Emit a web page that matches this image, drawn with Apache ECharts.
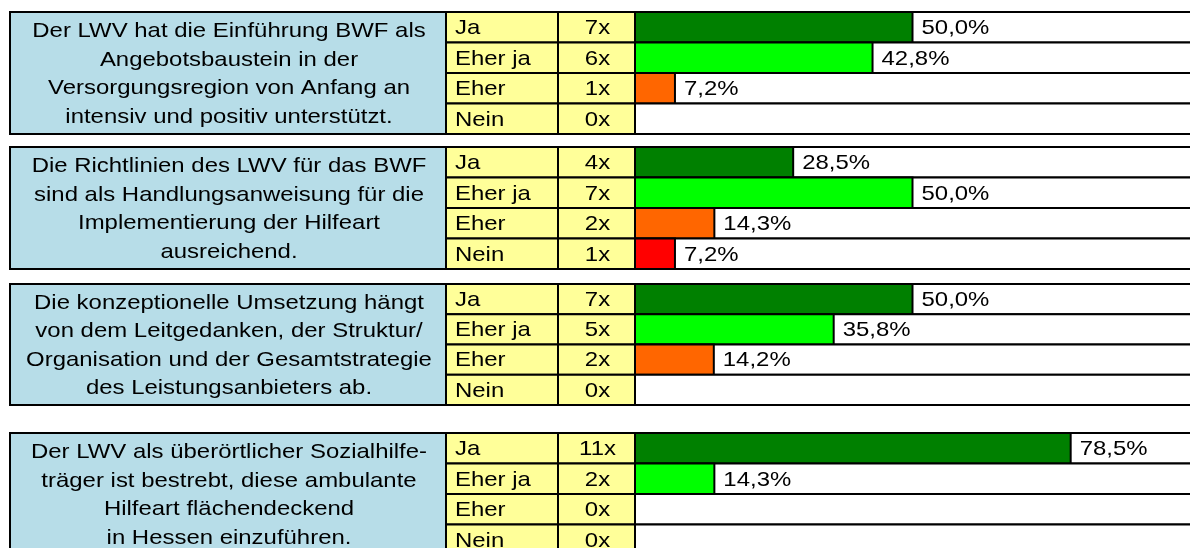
<!DOCTYPE html>
<html>
<head>
<meta charset="utf-8">
<script src="https://cdn.jsdelivr.net/npm/echarts@6/dist/echarts.min.js"></script>
<style>
  html, body { margin: 0; padding: 0; background: #fff; overflow: hidden; }
  #chart { width: 1190px; height: 560px; }
</style>
</head>
<body>
<div id="chart"></div>
<script>
// Answer categories (rows of every block)
const answers = ['Ja', 'Eher ja', 'Eher', 'Nein'];

// Statements
const questions = [
  'Der LWV hat die Einführung BWF als\nAngebotsbaustein in der\nVersorgungsregion von Anfang an\nintensiv und positiv unterstützt.',
  'Die Richtlinien des LWV für das BWF\nsind als Handlungsanweisung für die\nImplementierung der Hilfeart\nausreichend.',
  'Die konzeptionelle Umsetzung hängt\nvon dem Leitgedanken, der Struktur/\nOrganisation und der Gesamtstrategie\ndes Leistungsanbieters ab.',
  'Der LWV als überörtlicher Sozialhilfe-\nträger ist bestrebt, diese ambulante\nHilfeart flächendeckend\nin Hessen einzuführen.'
];

// Number of answers per statement (Ja, Eher ja, Eher, Nein)
const counts1 = [7, 6, 1, 0];
const counts2 = [4, 7, 2, 1];
const counts3 = [7, 5, 2, 0];
const counts4 = [11, 2, 0, 0];

// Shares in percent
const shares1 = [50.0, 42.8, 7.2, 0];
const shares2 = [28.5, 50.0, 14.3, 7.2];
const shares3 = [50.0, 35.8, 14.2, 0];
const shares4 = [78.5, 14.3, 0, 0];

const countSets = [counts1, counts2, counts3, counts4];
const shareSets = [shares1, shares2, shares3, shares4];

// Layout (the drawing surface runs a little past the visible bottom edge)
const blockTops = [12, 147, 284, 433];
const blockHeights = [122, 122, 121, 122];
const barLeft = 635;
const answerColLeft = 446;
const countColLeft = 558;
const boxLeft = 10;
const barColors = ['#008000', '#00FF00', '#FF6600', '#FF0000'];
const FONT = '21px "Liberation Sans", Arial, Helvetica, sans-serif';
const STRETCH = 1.14;   // wide, slightly stretched lettering
const fmt = v => v.toFixed(1).replace('.', ',') + '%';

function label(x, y, text, align, extra) {
  return {
    type: 'text', x: x, y: y, scaleX: STRETCH,
    style: Object.assign({ x: 0, y: 0, text: text, fill: '#000', font: FONT,
      align: align, verticalAlign: 'middle' }, extra || {})
  };
}

function renderRow(params, api) {
  const share = api.value(0);
  const row = api.value(1);
  const count = api.value(2);
  const block = params.seriesIndex;
  const cs = params.coordSys;
  const h = api.size([0, 1])[1];
  const base = api.coord([0, row]);
  const end = api.coord([share, row]);
  const top = base[1] - h / 2;
  const cy = base[1];
  const line = { stroke: '#000', lineWidth: 2 };
  const children = [];

  if (row === 0) {
    const bottom = api.coord([0, answers.length - 1])[1] + h / 2;
    children.push({
      type: 'rect',
      shape: { x: boxLeft, y: top, width: answerColLeft - boxLeft, height: bottom - top },
      style: Object.assign({ fill: '#B7DDE8' }, line)
    });
    children.push(label((boxLeft + answerColLeft) / 2 + 1, (top + bottom) / 2 + 1,
      questions[block], 'center', { lineHeight: 28.5 }));
  }
  // answer cell
  children.push({
    type: 'rect',
    shape: { x: answerColLeft, y: top, width: countColLeft - answerColLeft, height: h },
    style: Object.assign({ fill: '#FFFF99' }, line)
  });
  children.push(label(answerColLeft + 9, cy + 1, answers[row], 'left'));
  // count cell
  children.push({
    type: 'rect',
    shape: { x: countColLeft, y: top, width: barLeft - countColLeft, height: h },
    style: Object.assign({ fill: '#FFFF99' }, line)
  });
  children.push(label((countColLeft + barLeft) / 2 + 1, cy + 1, count + 'x', 'center'));
  // bar area
  children.push({
    type: 'rect',
    shape: { x: base[0], y: top, width: cs.x + cs.width + 20 - base[0], height: h },
    style: Object.assign({ fill: '#fff' }, line)
  });
  if (share > 0) {
    children.push({
      type: 'rect',
      shape: { x: base[0], y: top, width: end[0] - base[0], height: h },
      style: Object.assign({ fill: barColors[row] }, line)
    });
    children.push(label(end[0] + 9, cy + 1, fmt(share), 'left'));
  }
  return { type: 'group', children: children };
}

const grids = [], xAxes = [], yAxes = [], series = [];
blockTops.forEach((t, i) => {
  grids.push({ left: barLeft, right: 0, top: t, height: blockHeights[i], show: false });
  xAxes.push({ gridIndex: i, type: 'value', min: 0, max: 100, show: false });
  yAxes.push({ gridIndex: i, type: 'category', data: answers, inverse: true, show: false });
  series.push({
    type: 'custom',
    xAxisIndex: i, yAxisIndex: i,
    renderItem: renderRow,
    clip: false,
    encode: { x: 0, y: 1 },
    data: answers.map((a, r) => [shareSets[i][r], r, countSets[i][r]])
  });
});

const chart = echarts.init(document.getElementById('chart'));
chart.setOption({
  animation: false,
  backgroundColor: '#fff',
  grid: grids,
  xAxis: xAxes,
  yAxis: yAxes,
  series: series
});
</script>
</body>
</html>
